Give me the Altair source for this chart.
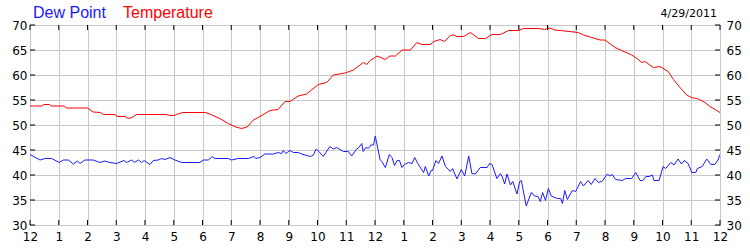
import altair as alt
import pandas as pd

# ---- data -------------------------------------------------------------
temp_hours = [0, 0.42, 0.48, 0.68, 0.74, 1.2, 1.26, 2.0, 2.2, 2.45, 2.55, 2.95, 3.05, 3.3,
              3.42, 3.55, 3.7, 4.75, 4.85, 5.0, 5.1, 5.3, 6.1, 6.3, 6.6, 6.9, 7.15, 7.36,
              7.55, 7.77, 8.0, 8.35, 8.63, 8.87, 9.04, 9.33, 9.62, 10.03, 10.32, 10.55,
              10.96, 11.25, 11.48, 11.6, 11.71, 11.85, 11.95, 12.07, 12.2, 12.36, 12.52,
              12.71, 12.94, 13.23, 13.46, 13.63, 13.93, 14.04, 14.27, 14.42, 14.62, 14.74,
              14.85, 15.08, 15.32, 15.6, 15.84, 16.07, 16.36, 16.65, 17.0, 17.17, 17.7,
              17.9, 18.09, 18.26, 18.6, 19.07, 19.25, 19.54, 19.83, 20.0, 20.35, 20.58,
              20.93, 21.16, 21.28, 21.39, 21.68, 21.91, 22.2, 22.38, 22.61, 22.84, 23.01,
              23.25, 23.48, 23.65, 23.83, 24.0]
temp_values = [53.8, 53.8, 54.1, 54.1, 53.8, 53.8, 53.4, 53.4, 52.6, 52.5, 52.1, 52.1, 51.7, 51.7,
               51.3, 51.5, 52.1, 52.1, 51.9, 51.9, 52.1, 52.5, 52.5, 52.1, 51.3, 50.3, 49.6, 49.3,
               49.6, 51.0, 51.7, 52.9, 53.1, 54.7, 54.7, 55.8, 56.2, 58.1, 58.5, 60.0,
               60.4, 61.0, 62.0, 62.5, 62.1, 63.0, 63.3, 63.8, 63.5, 63.1, 63.8,
               63.8, 65.0, 65.0, 66.5, 66.1, 66.1, 66.7, 67.1, 66.7, 67.9, 68.0,
               67.7, 67.7, 68.5, 67.3, 67.3, 68.1, 68.1, 68.9, 68.9, 69.3, 69.3,
               69.1, 69.4, 69.0, 68.8, 68.5, 68.0, 67.5, 67.0, 67.0, 65.5, 64.9,
               64.0, 63.1, 62.5, 62.7, 61.5, 61.7, 60.7, 59.1, 57.5, 56.0, 55.5,
               55.2, 54.5, 53.7, 53.1, 52.5]

dew_hours = [0, 0.35, 0.52, 0.75, 1.02, 1.16, 1.33, 1.51, 1.65, 1.74, 1.91, 2.2, 2.43, 2.6, 2.78,
             3.01, 3.27, 3.36, 3.54, 3.63, 3.77, 3.88, 3.97, 4.17, 4.29, 4.46, 4.58, 4.7, 4.87,
             5.04, 5.28, 5.91, 6.03, 6.2, 6.34, 6.43, 6.9, 7.01, 7.24, 7.59, 7.79, 7.86, 8.0,
             8.17, 8.46, 8.64, 8.75, 8.81, 8.9, 9.04, 9.16, 9.33, 9.45, 9.62, 9.76, 9.86, 9.95,
             10.05, 10.2, 10.43, 10.55, 10.67, 10.9, 11.07, 11.19, 11.36, 11.44, 11.54, 11.59,
             11.68, 11.77, 11.86, 11.95, 12.01, 12.18, 12.24, 12.36, 12.5, 12.59, 12.68, 12.77,
             12.85, 12.94, 13.02, 13.17, 13.29, 13.38, 13.52, 13.69, 13.75, 13.87, 13.95, 14.0,
             14.12, 14.21, 14.33, 14.45, 14.62, 14.7, 14.85, 15.0, 15.12, 15.26, 15.37, 15.49,
             15.66, 15.9, 15.98, 16.07, 16.24, 16.36, 16.42, 16.51, 16.59, 16.71, 16.79, 16.94,
             17.03, 17.09, 17.26, 17.44, 17.55, 17.67, 17.75, 17.83, 17.93, 18.03, 18.13, 18.34,
             18.46, 18.52, 18.6, 18.69, 18.86, 18.98, 19.15, 19.25, 19.41, 19.52, 19.65, 19.77,
             19.91, 20.08, 20.17, 20.25, 20.37, 20.6, 20.72, 20.93, 21.07, 21.22, 21.32, 21.42,
             21.53, 21.65, 21.7, 21.88, 22.02, 22.11, 22.29, 22.4, 22.54, 22.66, 22.75, 22.89,
             23.02, 23.16, 23.21, 23.38, 23.54, 23.68, 23.82, 23.93, 24.0]
dew_values = [44.1, 43.0, 43.3, 43.3, 42.5, 43.0, 43.0, 42.2, 42.8, 42.3, 43.0, 43.0, 42.5, 42.8, 42.5,
              42.3, 42.9, 42.5, 43.0, 42.5, 43.0, 42.5, 42.9, 42.1, 42.9, 43.0, 43.3, 43.1, 43.5,
              43.0, 42.5, 42.5, 43.0, 43.0, 43.7, 43.3, 43.3, 43.0, 43.3, 43.3, 43.7, 43.3, 43.5,
              44.2, 44.2, 44.5, 44.3, 44.9, 44.3, 44.9, 44.5, 44.5, 44.2, 43.9, 43.7, 44.0, 45.2,
              44.7, 43.7, 45.7, 45.2, 45.5, 44.7, 44.7, 43.8, 45.2, 45.5, 46.3, 44.7,
              45.5, 45.3, 46.0, 46.0, 47.8, 43.0, 42.7, 41.5, 44.1, 43.5, 41.9, 42.9,
              42.9, 41.5, 42.1, 42.5, 42.3, 43.5, 42.0, 40.5, 41.7, 39.8, 40.9, 40.9,
              42.9, 42.3, 43.8, 41.7, 40.7, 41.3, 39.2, 41.1, 39.8, 43.8, 40.3, 40.2,
              41.5, 41.5, 42.3, 42.1, 39.3, 40.3, 39.7, 38.2, 40.2, 38.0, 38.7, 36.2,
              38.7, 38.9, 33.8, 36.5, 35.8, 35.7, 34.7, 36.5, 34.9, 37.3, 35.8, 35.3,
              35.3, 34.3, 36.9, 35.1, 36.9, 36.7, 38.7, 37.8, 38.9, 38.1, 39.3, 38.5,
              38.8, 40.2, 39.8, 40.1, 39.1, 38.9, 39.3, 39.3, 40.5, 38.9, 38.9, 39.7,
              39.7, 40.0, 38.9, 38.9, 41.7, 41.3, 42.5, 42.0, 43.2, 42.2, 42.9, 42.3,
              40.5, 40.5, 41.3, 41.7, 43.2, 42.1, 42.1, 43.0, 44.1]

hour_ticks = list(range(0, 25))
y_ticks = [30, 35, 40, 45, 50, 55, 60, 65, 70]
series_names = ["Dew Point", "Temperature"]
series_colors = ["#1a1aff", "#ff0000"]
date_label = "4/29/2011"

# ---- frames -------------------------------------------------------------
temp_df = pd.DataFrame({"hour": temp_hours, "value": temp_values})
dew_df = pd.DataFrame({"hour": dew_hours, "value": dew_values})
xt_df = pd.DataFrame({"hour": hour_ticks})
yt_df = pd.DataFrame({"value": y_ticks})

FONT = "DejaVu Sans"
xscale = alt.Scale(domain=[0, 24], nice=False, zero=False)
yscale = alt.Scale(domain=[30, 70], nice=False, zero=False)

x_axis = alt.Axis(values=hour_ticks, grid=True, gridColor="#c8c8c8", domain=False, ticks=False,
                  labelExpr="datum.value % 12 == 0 ? '12' : '' + (datum.value % 12)",
                  labelFont=FONT, labelFontSize=12, labelColor="black", labelPadding=6,
                  labelFlush=False, title=None)
y_left = alt.Axis(values=y_ticks, grid=True, gridColor="#c8c8c8", domain=False, ticks=False,
                  labelFont=FONT, labelFontSize=12, labelColor="black", labelPadding=3,
                  orient="left", title=None)
y_right = alt.Axis(values=y_ticks, grid=False, domain=False, ticks=False,
                   labelFont=FONT, labelFontSize=12, labelColor="black", labelPadding=6,
                   orient="right", title=None)

dew_line = alt.Chart(dew_df).mark_line(color=series_colors[0], strokeWidth=1, clip=True).encode(
    x=alt.X("hour:Q", scale=xscale, axis=x_axis),
    y=alt.Y("value:Q", scale=yscale, axis=y_left),
)
temp_line = alt.Chart(temp_df).mark_line(color=series_colors[1], strokeWidth=1, clip=True).encode(
    x=alt.X("hour:Q", scale=xscale, axis=None),
    y=alt.Y("value:Q", scale=yscale, axis=y_right),
)

tick_col = "#000000"
top_ticks = alt.Chart(xt_df).mark_rule(color=tick_col, strokeWidth=1).encode(
    x=alt.X("hour:Q", scale=xscale, axis=None), y=alt.value(0), y2=alt.value(5))
bot_ticks = alt.Chart(xt_df).mark_rule(color=tick_col, strokeWidth=1).encode(
    x=alt.X("hour:Q", scale=xscale, axis=None), y=alt.value(195), y2=alt.value(200))
left_ticks = alt.Chart(yt_df).mark_rule(color=tick_col, strokeWidth=1).encode(
    y=alt.Y("value:Q", scale=yscale, axis=None), x=alt.value(0), x2=alt.value(5))
right_ticks = alt.Chart(yt_df).mark_rule(color=tick_col, strokeWidth=1).encode(
    y=alt.Y("value:Q", scale=yscale, axis=None), x=alt.value(685), x2=alt.value(690))

name_df = pd.DataFrame({"name": series_names, "color": series_colors})
dew_title = alt.Chart(name_df).transform_filter(alt.datum.name == series_names[0]).mark_text(
    font="Liberation Sans", fontSize=16, align="left", baseline="alphabetic",
    color=series_colors[0]).encode(text="name:N", x=alt.value(3), y=alt.value(-7))
temp_title = alt.Chart(name_df).transform_filter(alt.datum.name == series_names[1]).mark_text(
    font="Liberation Sans", fontSize=16, align="left", baseline="alphabetic",
    color=series_colors[1]).encode(text="name:N", x=alt.value(93), y=alt.value(-7))
date_df = pd.DataFrame({"label": [date_label]})
date_text = alt.Chart(date_df).mark_text(
    font=FONT, fontSize=11, align="right", baseline="alphabetic", color="black").encode(
    text="label:N", x=alt.value(687), y=alt.value(-8))

chart = alt.layer(
    dew_line, temp_line, top_ticks, bot_ticks, left_ticks, right_ticks,
    dew_title, temp_title, date_text,
).resolve_axis(x="independent", y="independent").properties(
    width=690, height=200,
    autosize=alt.AutoSizeParams(type="none"),
    padding={"left": 30, "top": 25, "right": 30, "bottom": 25},
    background="white",
).configure_view(stroke="black", strokeWidth=1)

chart.save("out.html", embed_options={"renderer": "svg", "actions": False})
